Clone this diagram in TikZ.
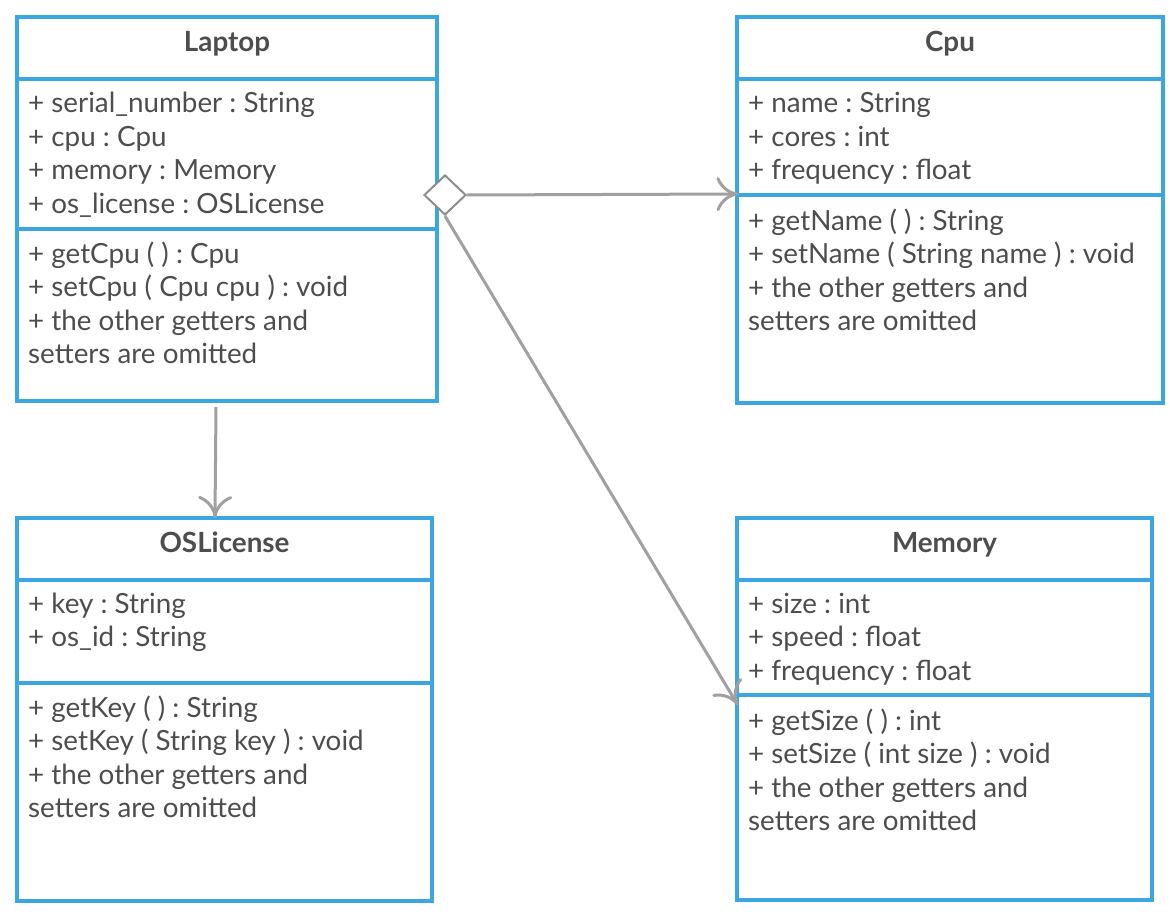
\documentclass[tikz,border=0pt]{standalone}
\usepackage{fontspec}
\setmainfont{Lato}
\frenchspacing
\usetikzlibrary{shapes.geometric,arrows.meta}
\definecolor{umlblue}{RGB}{58,167,226}
\definecolor{conngray}{RGB}{160,160,160}
\definecolor{diagray}{RGB}{140,140,140}
\definecolor{txtgray}{RGB}{77,77,77}
\pgfdeclarearrow{
  name = CBarb,
  parameters = {\the\pgfarrowlength,\the\pgfarrowwidth},
  setup code = {
    \pgfarrowssettipend{0pt}
    \pgfarrowssetlineend{-1pt}
    \pgfarrowssetbackend{-\pgfarrowlength}
    \pgfarrowshullpoint{0pt}{0pt}
    \pgfarrowsupperhullpoint{-\pgfarrowlength}{.5\pgfarrowwidth}
    \pgfarrowssavethe\pgfarrowlength
    \pgfarrowssavethe\pgfarrowwidth
  },
  drawing code = {
    \pgfsetdash{}{0pt}
    \pgfsetroundcap
    \pgfsetroundjoin
    \pgfpathmoveto{\pgfqpoint{-\pgfarrowlength}{.5\pgfarrowwidth}}
    \pgfpathcurveto{\pgfqpoint{-.8\pgfarrowlength}{.2\pgfarrowwidth}}{\pgfqpoint{-.4\pgfarrowlength}{.03\pgfarrowwidth}}{\pgfqpoint{0pt}{0pt}}
    \pgfpathcurveto{\pgfqpoint{-.4\pgfarrowlength}{-.03\pgfarrowwidth}}{\pgfqpoint{-.8\pgfarrowlength}{-.2\pgfarrowwidth}}{\pgfqpoint{-\pgfarrowlength}{-.5\pgfarrowwidth}}
    \pgfusepathqstroke
  },
  defaults = {length = 19pt, width = 31pt}
}
\tikzset{
  umlbox/.style={rectangle, draw=umlblue, line width=4pt, outer sep=0pt, inner sep=0pt, anchor=north west},
  sepline/.style={draw=umlblue, line width=4pt},
  txt/.style={anchor=base west, inner sep=0pt, text=txtgray, font=\fontsize{27.8}{32}\selectfont},
  ttl/.style={anchor=base, inner sep=0pt, text=txtgray, font=\fontsize{27.8}{32}\selectfont\bfseries},
  conn/.style={draw=conngray, line width=3pt, -{CBarb}},
  aggr/.style={diamond, draw=diagray, fill=white, line width=2pt, inner sep=0pt, minimum width=42pt, minimum height=40pt, aspect=1}
}
\begin{document}
\begin{tikzpicture}[x=1pt,y=-1pt]
\useasboundingbox (0,0) rectangle (1170,920);
% boxes
\node[umlbox, minimum width=420pt, minimum height=384pt] (laptop) at (17,17) {};
\node[umlbox, minimum width=426pt, minimum height=386pt] (cpu) at (737,17) {};
\node[umlbox, minimum width=415pt, minimum height=383.5pt] (oslicense) at (17,517.5) {};
\node[umlbox, minimum width=415pt, minimum height=382.5pt] (memory) at (737,517.5) {};
% separators
\draw[sepline] (17,79) -- (437,79);
\draw[sepline] (17,229) -- (437,229);
\draw[sepline] (737,79) -- (1163,79);
\draw[sepline] (737,195.5) -- (1163,195.5);
\draw[sepline] (17,579.5) -- (432,579.5);
\draw[sepline] (17,683) -- (432,683);
\draw[sepline] (737,579.5) -- (1152,579.5);
\draw[sepline] (737,695) -- (1152,695);
% Laptop
\node[ttl] (lt) at (227,52) {Laptop};
\node[txt] (la1) at (28,113) {+ serial\_number : String};
\node[txt] (la2) at (28,146.5) {+ cpu : Cpu};
\node[txt] (la3) at (28,180) {+ memory : Memory};
\node[txt] (la4) at (28,213.5) {+ os\_license : OSLicense};
\node[txt] (lm1) at (28,263) {+ getCpu ( ) : Cpu};
\node[txt] (lm2) at (28,296.5) {+ setCpu ( Cpu cpu ) : void};
\node[txt] (lm3) at (28,330) {+ the other getters and};
\node[txt] (lm4) at (28,363.5) {setters are omitted};
% Cpu
\node[ttl] (ct) at (950,52) {Cpu};
\node[txt] (ca1) at (748,113) {+ name : String};
\node[txt] (ca2) at (748,146.5) {+ cores : int};
\node[txt] (ca3) at (748,180) {+ frequency : float};
\node[txt] (cm1) at (748,230) {+ getName ( ) : String};
\node[txt] (cm2) at (748,263.5) {+ setName ( String name ) : void};
\node[txt] (cm3) at (748,297) {+ the other getters and};
\node[txt] (cm4) at (748,330.5) {setters are omitted};
% OSLicense
\node[ttl] (ot) at (224.5,552) {OSLicense};
\node[txt] (oa1) at (28,613) {+ key : String};
\node[txt] (oa2) at (28,646.5) {+ os\_id : String};
\node[txt] (om1) at (28,717) {+ getKey ( ) : String};
\node[txt] (om2) at (28,750.5) {+ setKey ( String key ) : void};
\node[txt] (om3) at (28,784) {+ the other getters and};
\node[txt] (om4) at (28,817.5) {setters are omitted};
% Memory
\node[ttl] (mt) at (944.5,552) {Memory};
\node[txt] (ma1) at (748,613) {+ size : int};
\node[txt] (ma2) at (748,646.5) {+ speed : float};
\node[txt] (ma3) at (748,680) {+ frequency : float};
\node[txt] (mm1) at (748,730) {+ getSize ( ) : int};
\node[txt] (mm2) at (748,763.5) {+ setSize ( int size ) : void};
\node[txt] (mm3) at (748,797) {+ the other getters and};
\node[txt] (mm4) at (748,830.5) {setters are omitted};
% aggregation diamond
\node[aggr] (agg) at (445,195) {};
% connectors
\draw[conn] (agg.east) -- ([yshift=16pt]cpu.west);
\draw[conn] (agg.south) -- ([yshift=5pt]memory.west);
\draw[conn] ([xshift=-11pt,yshift=-6pt]laptop.south) -- ([xshift=-9.5pt,yshift=1pt]oslicense.north);
\end{tikzpicture}
\end{document}
